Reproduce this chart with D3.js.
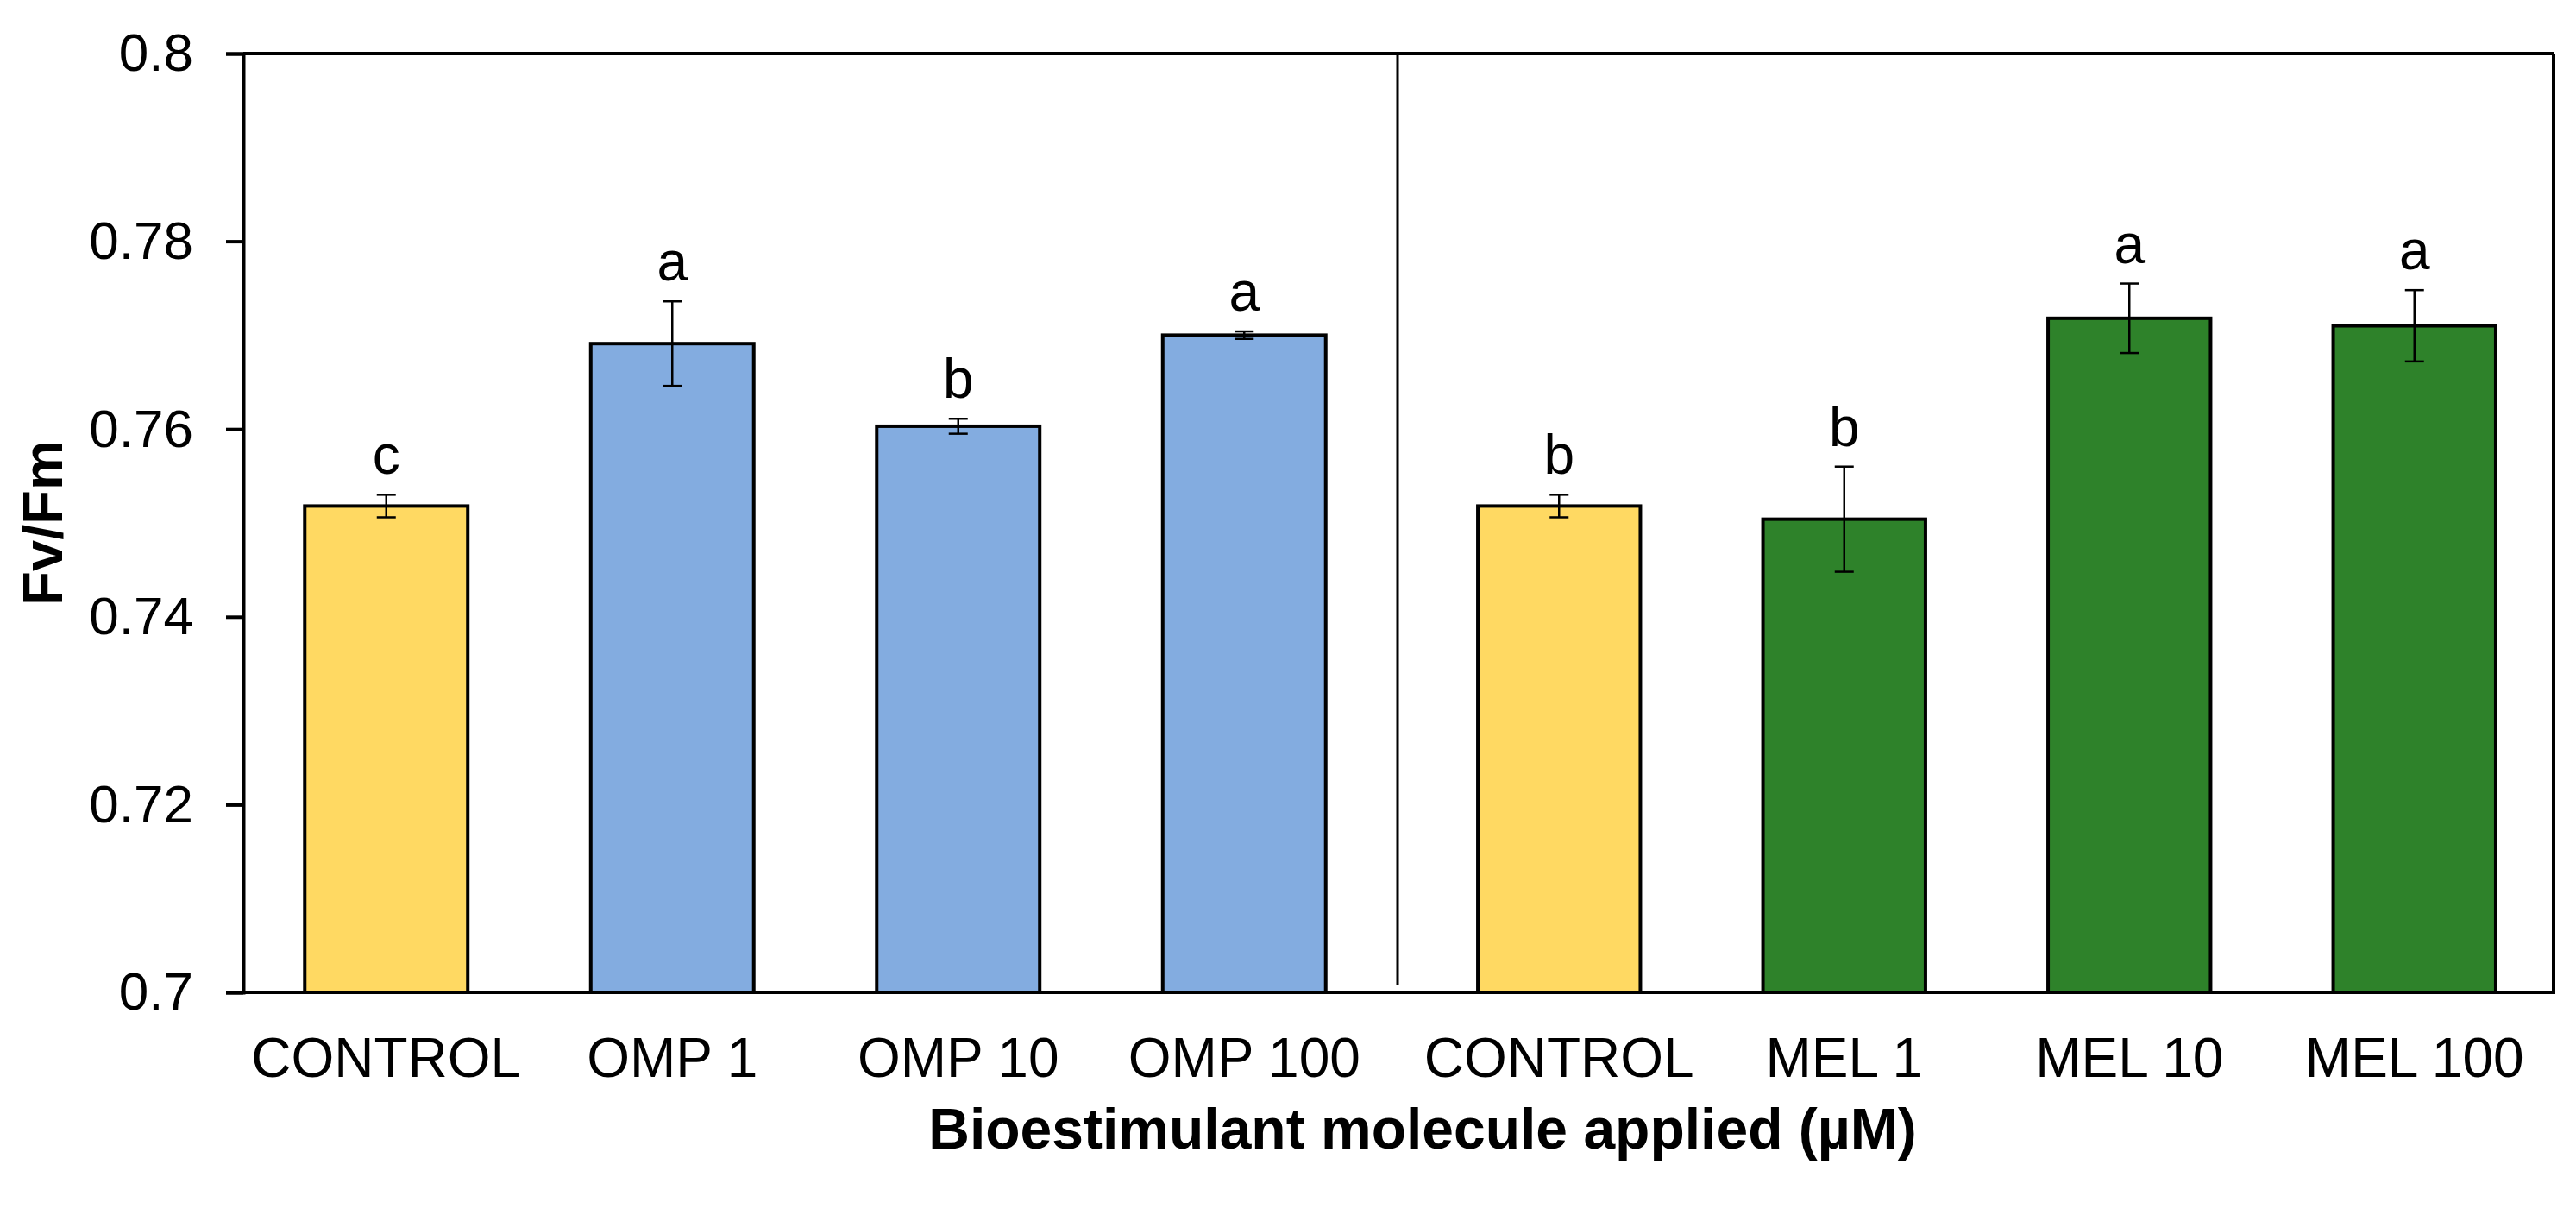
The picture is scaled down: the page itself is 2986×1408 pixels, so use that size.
<!DOCTYPE html>
<html>
<head>
<meta charset="utf-8">
<script src="https://cdn.jsdelivr.net/npm/d3@7"></script>
<style>
  html, body { margin: 0; padding: 0; background: #fff; }
  svg { display: block; font-family: "Liberation Sans", Arial, sans-serif; }
</style>
</head>
<body>
<svg id="chart" width="2986" height="1408"></svg>
<script>
// ---- data ----
const leftCategories = ["CONTROL", "OMP 1", "OMP 10", "OMP 100"];
const rightCategories = ["CONTROL", "MEL 1", "MEL 10", "MEL 100"];
const leftValues = [0.7518, 0.7691, 0.7603, 0.7700];
const rightValues = [0.7518, 0.7504, 0.7718, 0.7710];
const leftErrors = [0.0012, 0.0045, 0.0008, 0.0004];
const rightErrors = [0.0012, 0.0056, 0.0037, 0.0038];
const leftLetters = ["c", "a", "b", "a"];
const rightLetters = ["b", "b", "a", "a"];
const leftColors = ["#FFD962", "#83ACE0", "#83ACE0", "#83ACE0"];
const rightColors = ["#FFD962", "#2E822A", "#2E822A", "#2E822A"];
const yTicks = [0.7, 0.72, 0.74, 0.76, 0.78, 0.8];
const yTickLabels = ["0.7", "0.72", "0.74", "0.76", "0.78", "0.8"];
const yLabel = "Fv/Fm";
const xLabel = "Bioestimulant molecule applied (µM)";

// ---- layout ----
const plotLeft = 282, plotRight = 2960, plotTop = 62, plotBottom = 1150;
const dividerX = 1620;
const fontSize = 62;

const svg = d3.select("#chart");

const y = d3.scaleLinear().domain([0.7, 0.8]).range([plotBottom, plotTop]);
const xLeft = d3.scaleBand().domain(leftCategories.map((d, i) => "L" + i))
  .range([plotLeft, dividerX - 12]).paddingInner(0.43).paddingOuter(0.215);
const xRight = d3.scaleBand().domain(rightCategories.map((d, i) => "R" + i))
  .range([dividerX + 22, plotRight + 4]).paddingInner(0.43).paddingOuter(0.215);

const rows = [];
leftCategories.forEach((c, i) => rows.push({ key: "L" + i, cat: c, v: leftValues[i], e: leftErrors[i], letter: leftLetters[i], color: leftColors[i], sc: xLeft }));
rightCategories.forEach((c, i) => rows.push({ key: "R" + i, cat: c, v: rightValues[i], e: rightErrors[i], letter: rightLetters[i], color: rightColors[i], sc: xRight }));

// bars
svg.append("g").selectAll("rect").data(rows).join("rect")
  .attr("x", d => d.sc(d.key))
  .attr("width", d => d.sc.bandwidth())
  .attr("y", d => y(d.v))
  .attr("height", d => y(0.7) - y(d.v))
  .attr("fill", d => d.color)
  .attr("stroke", "#000")
  .attr("stroke-width", 4);

// error bars
const eg = svg.append("g").attr("stroke", "#000").attr("stroke-width", 2.5);
rows.forEach(d => {
  const cx = d.sc(d.key) + d.sc.bandwidth() / 2;
  eg.append("line").attr("x1", cx).attr("x2", cx).attr("y1", y(d.v + d.e)).attr("y2", y(d.v - d.e));
  eg.append("line").attr("x1", cx - 11).attr("x2", cx + 11).attr("y1", y(d.v + d.e)).attr("y2", y(d.v + d.e));
  eg.append("line").attr("x1", cx - 11).attr("x2", cx + 11).attr("y1", y(d.v - d.e)).attr("y2", y(d.v - d.e));
});

// significance letters
svg.append("g").selectAll("text").data(rows).join("text")
  .attr("x", d => d.sc(d.key) + d.sc.bandwidth() / 2)
  .attr("y", d => y(d.v + d.e) - 24)
  .attr("text-anchor", "middle")
  .attr("font-size", 64)
  .attr("fill", "#000")
  .text(d => d.letter);

// frame: top and right
svg.append("line").attr("x1", plotLeft).attr("x2", plotRight).attr("y1", plotTop).attr("y2", plotTop)
  .attr("stroke", "#000").attr("stroke-width", 4);
svg.append("line").attr("x1", plotRight).attr("x2", plotRight).attr("y1", plotTop).attr("y2", plotBottom)
  .attr("stroke", "#000").attr("stroke-width", 4);
// divider
svg.append("line").attr("x1", dividerX).attr("x2", dividerX).attr("y1", plotTop).attr("y2", plotBottom - 8)
  .attr("stroke", "#000").attr("stroke-width", 3);

// y axis
const yAxis = d3.axisLeft(y).tickValues(yTicks).tickFormat((d, i) => yTickLabels[i]).tickSizeOuter(0).tickSize(20).tickPadding(38);
const ya = svg.append("g").attr("transform", `translate(${plotLeft},0)`).call(yAxis);
ya.select(".domain").attr("stroke", "#000").attr("stroke-width", 4);
ya.selectAll(".tick line").attr("stroke", "#000").attr("stroke-width", 4);
ya.selectAll(".tick text").attr("font-size", fontSize).attr("fill", "#000")
  .attr("font-family", "Liberation Sans, Arial, sans-serif");

// x axis (baseline) with category labels
const xa = svg.append("g");
xa.append("line").attr("x1", plotLeft - 20).attr("x2", plotRight + 2).attr("y1", plotBottom).attr("y2", plotBottom)
  .attr("stroke", "#000").attr("stroke-width", 4);
xa.selectAll("text").data(rows).join("text")
  .attr("x", d => d.sc(d.key) + d.sc.bandwidth() / 2)
  .attr("y", 1248)
  .attr("text-anchor", "middle")
  .attr("font-size", 64)
  .attr("fill", "#000")
  .text(d => d.cat);

// axis titles
svg.append("text")
  .attr("x", 1649)
  .attr("y", 1331)
  .attr("text-anchor", "middle")
  .attr("font-size", 66)
  .attr("font-weight", "bold")
  .text(xLabel);

svg.append("text")
  .attr("transform", `translate(72, ${(plotTop + plotBottom) / 2}) rotate(-90)`)
  .attr("text-anchor", "middle")
  .attr("font-size", 65)
  .attr("font-weight", "bold")
  .text(yLabel);
</script>
</body>
</html>
